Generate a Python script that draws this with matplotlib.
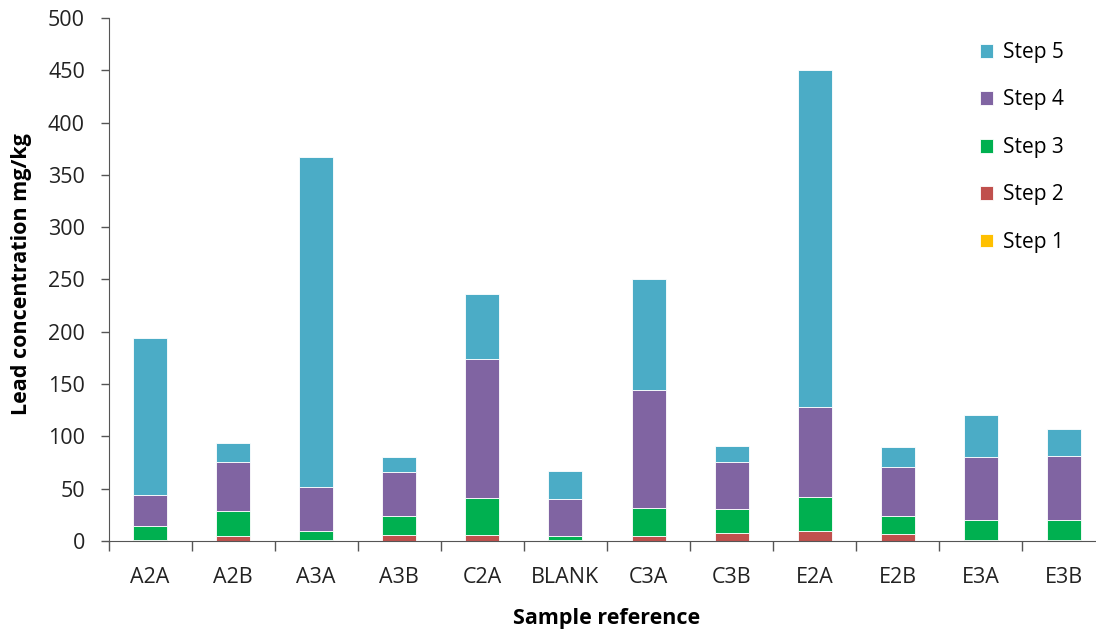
import numpy as np
import matplotlib
matplotlib.use("Agg")
import matplotlib.pyplot as plt

samples = ['A2A', 'A2B', 'A3A', 'A3B', 'C2A', 'BLANK', 'C3A', 'C3B', 'E2A', 'E2B', 'E3A', 'E3B']
step1 = [0.3, 0.3, 0.3, 0.3, 0.3, 0.2, 0.3, 0.3, 0.3, 0.3, 0.3, 0.3]
step2 = [1.0, 4.2, 0.7, 5.4, 5.4, 0.3, 4.2, 7.7, 8.9, 6.7, 0.7, 0.7]
step3 = [13.0, 24.2, 8.3, 18.5, 35.7, 4.0, 27.0, 22.3, 33.2, 17.2, 19.4, 19.4]
step4 = [29.4, 46.8, 42.7, 41.5, 132.6, 35.3, 112.5, 44.9, 85.6, 46.2, 59.9, 60.9]
step5 = [150.3, 18.2, 315.0, 14.6, 62.0, 27.2, 106.0, 15.8, 322.0, 19.5, 40.2, 25.7]

steps = [step1, step2, step3, step4, step5]
labels = ['Step 1', 'Step 2', 'Step 3', 'Step 4', 'Step 5']
colors = ['#FFC000', '#C0504D', '#00B050', '#8064A2', '#4BACC6']

plt.rcParams['font.family'] = ['Open Sans', 'DejaVu Sans']

fig = plt.figure(figsize=(10.96, 6.30), dpi=100)
ax = fig.add_axes([108.5/1096, 1 - 541/630, 997/1096, 523/630])

x = np.arange(len(samples))
bottom = np.zeros(len(samples))
handles = []
for vals, lab, col in zip(steps, labels, colors):
    b = ax.bar(x, vals, 0.41, bottom=bottom, color=col, edgecolor='white',
               linewidth=0.6, label=lab)
    handles.append(b)
    bottom += np.array(vals)

ax.set_ylim(0, 500)
ax.set_xlim(-0.5, 11.5)
ax.set_yticks(np.arange(0, 501, 50))
ax.set_xticks(x)
ax.set_xticklabels(samples)
ax.set_xticks(np.arange(-0.5, 11.6, 1), minor=True)
ax.tick_params(axis='x', which='major', length=0, labelsize=15.5, pad=19, labelcolor='#222222')
ax.tick_params(axis='x', which='minor', length=7, width=1, color='#555555')
ax.tick_params(axis='y', length=6, width=1, color='#555555', labelsize=15.5, pad=11,
               labelcolor='#222222')

for s in ['top', 'right']:
    ax.spines[s].set_visible(False)
for s in ['left', 'bottom']:
    ax.spines[s].set_color('#555555')

ax.set_ylabel('Lead concentration mg/kg', fontsize=15.5, fontweight='bold')
ax.set_xlabel('Sample reference', fontsize=15.5, fontweight='bold')
ax.yaxis.set_label_coords(-0.077, 0.51)
ax.xaxis.set_label_coords(0.5, -0.128)

ax.legend(handles[::-1], labels[::-1], loc='upper left', bbox_to_anchor=(0.855, 0.99),
          frameon=False, fontsize=15, labelspacing=1.27, handlelength=0.65,
          handleheight=0.65, handletextpad=0.45)

fig.savefig('out.png', dpi=100)
